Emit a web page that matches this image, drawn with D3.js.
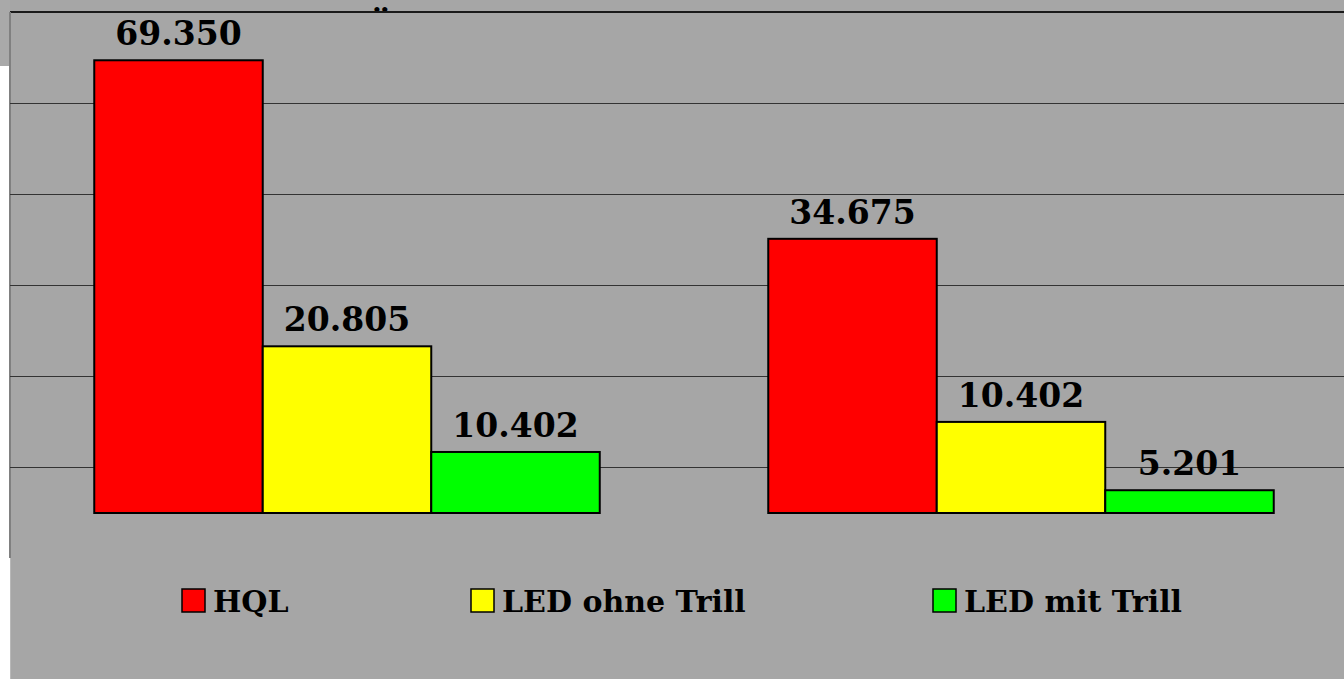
<!DOCTYPE html>
<html>
<head>
<meta charset="utf-8">
<script src="https://cdn.jsdelivr.net/npm/d3@7"></script>
<style>
  html, body { margin: 0; padding: 0; background: #fff; }
  svg { display: block; }
  text { font-family: "DejaVu Serif", serif; font-weight: bold; fill: #000; }
</style>
</head>
<body>
<div id="chart"></div>
<script>
// Chart data
const categories = ["Gruppe 1", "Gruppe 2"];
const series = ["HQL", "LED ohne Trill", "LED mit Trill"];
const colors = ["#ff0000", "#ffff00", "#00ff00"];

// bar heights as drawn (in gridline units)
const barValues = [
    [4.97, 1.83, 0.67],
    [3.01, 1.00, 0.25]
];
// printed value labels
const barLabels = [
    ["69.350", "20.805", "10.402"],
    ["34.675", "10.402", "5.201"]
];
const gridValues = [0.5, 1.5, 2.5, 3.5, 4.5, 5.5];

const W = 1344, H = 679;
const plot = { left: 10, right: 1358, top: 12, bottom: 558, base: 513 };
const bg = "#a6a6a6";

function createChart() {
    const svg = d3.select("#chart")
        .append("svg")
        .attr("width", W)
        .attr("height", H);

    // chart area
    svg.append("rect")
        .attr("x", plot.left).attr("y", 0)
        .attr("width", W - plot.left).attr("height", H)
        .attr("fill", bg);
    svg.append("rect")
        .attr("x", 0).attr("y", 0)
        .attr("width", plot.left).attr("height", 66)
        .attr("fill", "#a9a9a9");
    svg.append("line")
        .attr("x1", plot.left + 0.5).attr("x2", plot.left + 0.5)
        .attr("y1", plot.bottom).attr("y2", H)
        .attr("stroke", "#b8b8b8");

    // clipped title (only the umlaut shows above the plot area)
    svg.append("text")
        .attr("x", 380)
        .attr("y", 40)
        .attr("text-anchor", "middle")
        .attr("font-size", "36px")
        .text("Ü");

    // plot area
    svg.append("rect")
        .attr("x", plot.left).attr("y", plot.top)
        .attr("width", plot.right - plot.left).attr("height", plot.bottom - plot.top)
        .attr("fill", bg);
    svg.append("line")
        .attr("x1", plot.left).attr("x2", W)
        .attr("y1", plot.top).attr("y2", plot.top)
        .attr("stroke", "#1a1a1a").attr("stroke-width", 2);
    svg.append("line")
        .attr("x1", plot.left).attr("x2", plot.left)
        .attr("y1", plot.top).attr("y2", plot.bottom)
        .attr("stroke", "#808080").attr("stroke-width", 2);

    const y = d3.scaleLinear()
        .domain([0, 5.5])
        .range([plot.base, plot.top]);

    const x0 = d3.scaleBand()
        .domain(categories)
        .range([plot.left, plot.right])
        .paddingInner(0.25)
        .paddingOuter(0.125);

    const x1 = d3.scaleBand()
        .domain(series)
        .range([0, x0.bandwidth()]);

    // gridlines
    svg.append("g")
        .selectAll("line")
        .data(gridValues.slice(0, -1))
        .enter()
        .append("line")
        .attr("x1", plot.left).attr("x2", W)
        .attr("y1", d => Math.round(y(d)) + 0.5)
        .attr("y2", d => Math.round(y(d)) + 0.5)
        .attr("stroke", "#333");

    // bars
    const groups = svg.append("g")
        .selectAll("g")
        .data(categories)
        .enter()
        .append("g")
        .attr("transform", d => `translate(${x0(d)},0)`);

    groups.selectAll("rect")
        .data((d, i) => barValues[i].map((v, j) => ({ v, s: series[j], c: colors[j], label: barLabels[i][j] })))
        .enter()
        .append("rect")
        .attr("x", d => x1(d.s))
        .attr("y", d => y(d.v))
        .attr("width", x1.bandwidth())
        .attr("height", d => y(0) - y(d.v))
        .attr("fill", d => d.c)
        .attr("stroke", "#000")
        .attr("stroke-width", 2);

    groups.selectAll("text")
        .data((d, i) => barValues[i].map((v, j) => ({ v, s: series[j], label: barLabels[i][j] })))
        .enter()
        .append("text")
        .attr("x", d => x1(d.s) + x1.bandwidth() / 2)
        .attr("y", d => y(d.v) - 15)
        .attr("text-anchor", "middle")
        .attr("font-size", "33px")
        .text(d => d.label);

    // legend
    const legendX = [182, 471, 933];
    const legend = svg.append("g")
        .selectAll("g")
        .data(series)
        .enter()
        .append("g")
        .attr("transform", (d, i) => `translate(${legendX[i]},589)`);

    legend.append("rect")
        .attr("width", 23).attr("height", 23)
        .attr("fill", (d, i) => colors[i])
        .attr("stroke", "#000")
        .attr("stroke-width", 1.5);

    legend.append("text")
        .attr("x", 31)
        .attr("y", 23)
        .attr("font-size", "30px")
        .text(d => d);
}

document.addEventListener('DOMContentLoaded', function() {
    createChart();
});
</script>
</body>
</html>
